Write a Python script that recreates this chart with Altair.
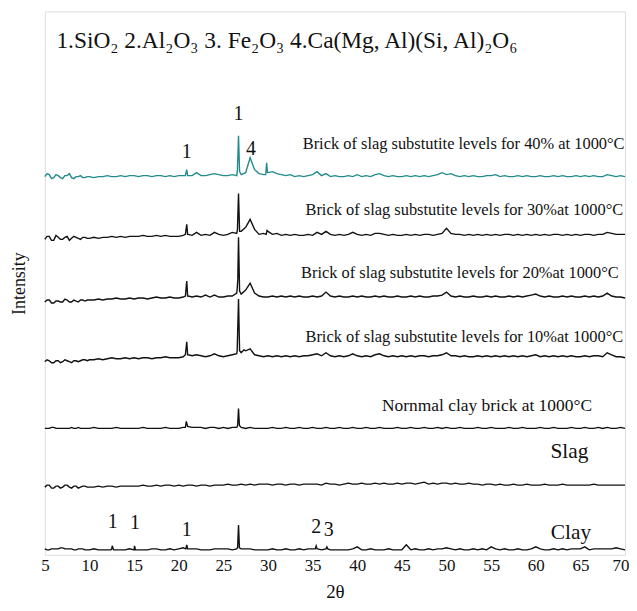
import altair as alt
import pandas as pd

# ---------------- data ----------------
X_TICKS = [5, 10, 15, 20, 25, 30, 35, 40, 45, 50, 55, 60, 65, 70]
GRID_X = [5 + 0.5 * i for i in range(131)]          # 5.0 ... 70.0
FUZZ_X = [5.25 + 0.5 * i for i in range(10)]         # 5.25 ... 9.75

SERIES = ["40%", "30%", "20%", "10%", "Normal", "Slag", "Clay"]
OFFSETS = [379, 319, 257, 197, 127, 68, 5]
COLORS = ["#238b8b", "#111111", "#111111", "#111111", "#111111", "#111111", "#111111"]

NOISE = {
    "40%": [1, 3, 0, 2, -1, 2, 0, 1, 2, 0,
            1, 0, 1, 1, 2, 1, 1, 2, 1, 2,
            2, 1, 2, 2, 1, 2, 2, 1, 2, 1,
            2, 2, 2, 2, 5, 2, 2, 3, 4, 3,
            2, 2, 3, 2, 3, 5, 20, 8, 4, 3,
            5, 6, 4, 3, 2, 3, 1, 2, 1, 2,
            3, 6, 2, 4, 1, 2, 1, 1, 2, 1,
            3, 1, 2, 1, 3, 4, 2, 1, 2, 1,
            1, 2, 1, 2, 1, 2, 1, 2, 3, 5,
            3, 4, 2, 1, 2, 1, 2, 1, 1, 2,
            2, 3, 1, 2, 1, 1, 2, 1, 2, 1,
            1, 2, 1, 1, 2, 1, 2, 1, 1, 2,
            1, 2, 1, 2, 1, 1, 3, 2, 1, 2,
            1],
    "30%": [-2, 1, -3, 0, -2, 1, -1, 0, -2, 0,
            -1, 0, -1, 0, 0, 1, 0, 1, 0, 1,
            1, 1, 2, 1, 1, 2, 1, 2, 1, 1,
            1, 2, 3, 2, 5, 2, 3, 2, 5, 3,
            2, 3, 5, 4, 6, 10, 18, 8, 3, 4,
            6, 3, 4, 2, 3, 2, 3, 2, 2, 3,
            2, 5, 3, 6, 3, 2, 3, 2, 3, 5,
            3, 2, 3, 2, 4, 4, 3, 2, 3, 2,
            2, 3, 2, 3, 2, 3, 3, 2, 3, 4,
            9, 4, 3, 3, 2, 3, 2, 3, 2, 3,
            2, 3, 2, 3, 3, 2, 3, 2, 3, 2,
            3, 2, 3, 2, 3, 3, 2, 3, 2, 3,
            2, 3, 3, 2, 3, 3, 5, 4, 3, 3,
            3],
    "20%": [-3, -1, -4, -2, -3, -1, -3, -2, -1, -2,
            -1, -1, 0, -1, 0, 0, 1, 0, 0, 1,
            0, 1, 1, 0, 1, 2, 1, 1, 2, 1,
            1, 2, 3, 2, 3, 2, 4, 2, 4, 2,
            2, 3, 3, 6, 5, 9, 16, 6, 3, 2,
            2, 3, 2, 3, 2, 3, 2, 3, 2, 2,
            3, 2, 3, 7, 3, 2, 3, 2, 2, 3,
            2, 3, 2, 2, 3, 2, 3, 2, 2, 3,
            2, 2, 3, 2, 3, 2, 2, 3, 3, 4,
            7, 3, 2, 3, 2, 2, 3, 2, 2, 3,
            2, 3, 2, 2, 3, 2, 3, 2, 3, 4,
            5, 3, 2, 3, 2, 2, 3, 2, 3, 2,
            2, 3, 2, 3, 2, 3, 6, 3, 2, 2,
            1],
    "10%": [-3, -2, -4, -2, -3, -2, -4, -2, -2, -1,
            -1, -1, 0, -1, 0, 1, 0, 0, 1, 0,
            1, 0, 1, 1, 0, 1, 1, 2, 1, 1,
            1, 2, 4, 3, 4, 3, 2, 3, 5, 3,
            2, 3, 4, 5, 6, 8, 10, 4, 3, 2,
            3, 2, 3, 2, 3, 2, 3, 2, 3, 3,
            4, 5, 3, 6, 3, 2, 3, 2, 3, 5,
            3, 2, 3, 2, 4, 5, 3, 2, 3, 2,
            3, 2, 3, 2, 3, 3, 2, 3, 3, 4,
            6, 3, 3, 2, 3, 2, 2, 3, 2, 3,
            2, 3, 2, 3, 2, 3, 2, 3, 2, 3,
            4, 2, 3, 2, 3, 2, 3, 2, 3, 2,
            2, 3, 2, 3, 3, 2, 6, 4, 2, 2,
            1],
    "Normal": [0, 0, 1, 0, 0, 0, 1, 0, 0, 0,
               0, 1, 0, 0, 0, 0, 1, 0, 0, 0,
               0, 0, 1, 0, 0, 0, 0, 1, 0, 0,
               0, 1, 2, 1, 1, 1, 0, 1, 1, 0,
               1, 0, 1, 1, 1, 0, 1, 0, 0, 0,
               0, 1, 0, 0, 1, 0, 0, 1, 0, 0,
               1, 0, 0, 1, 0, 0, 1, 0, 0, 1,
               0, 0, 1, 0, 0, 1, 0, 0, 0, 1,
               0, 0, 1, 0, 0, 1, 0, 0, 1, 0,
               1, 0, 0, 1, 0, 0, 0, 1, 0, 0,
               1, 0, 0, 0, 1, 0, 0, 1, 0, 0,
               0, 1, 0, 0, 1, 0, 0, 0, 1, 0,
               0, 1, 0, 0, 1, 0, 1, 0, 0, 1,
               0],
    "Slag": [0, 2, -1, 1, 0, 2, -1, 1, 0, 1,
             0, 0, 1, 0, 1, 1, 0, 1, 1, 1,
             1, 1, 2, 1, 1, 2, 1, 2, 2, 1,
             2, 1, 2, 2, 1, 2, 2, 1, 2, 2,
             2, 3, 2, 2, 3, 2, 3, 2, 3, 3,
             3, 2, 3, 3, 2, 3, 3, 2, 3, 3,
             3, 3, 2, 4, 3, 3, 2, 3, 4, 3,
             3, 4, 3, 3, 4, 3, 4, 3, 3, 4,
             3, 4, 4, 3, 4, 5, 3, 4, 3, 4,
             4, 3, 4, 3, 3, 4, 3, 3, 2, 3,
             3, 2, 3, 2, 2, 3, 2, 2, 3, 2,
             2, 2, 3, 2, 2, 2, 3, 2, 2, 2,
             2, 2, 2, 3, 2, 2, 2, 2, 2, 2,
             2],
    "Clay": [1, 0, 1, 1, 2, 1, 1, 0, 1, 0,
             0, 1, 0, 0, 0, 1, 0, 0, 0, 1,
             0, 0, 0, 0, 1, 1, 0, 0, 1, 0,
             1, 2, 1, 1, 1, 0, 0, 0, 1, 1,
             1, 1, 0, 1, 1, 1, 1, 0, 0, 0,
             0, 1, 0, 0, 1, 0, 0, 1, 0, 1,
             1, 1, 0, 1, 0, 0, 0, 0, 0, 1,
             3, 0, 0, 1, 0, 0, 0, 1, 0, 0,
             0, 5, 0, 1, 0, 0, 1, 0, 1, 1,
             2, 1, 0, 1, 0, 0, 1, 0, 1, 0,
             3, 1, 0, 1, 0, 0, 1, 0, 0, 1,
             3, 1, 0, 0, 1, 0, 1, 0, 1, 1,
             1, 3, 0, 1, 1, 1, 1, 1, 2, 1,
             0],
}

FUZZ = {
    "40%": [4, -1, 3, 0, 2, 4, -1, 1, 0, 1],
    "30%": [1, -3, 2, -2, 0, -3, 1, -1, 0, -1],
    "20%": [-1, -4, -2, -3, 0, -3, -1, -3, -1, -1],
    "10%": [-1, -4, -2, -4, -1, -3, -2, -3, -1, -2],
    "Normal": [0, 1, 0, 0, 0, 0, 0, 1, 0, 0],
    "Slag": [2, -1, 1, -1, 2, 0, 1, -1, 1, 0],
    "Clay": [0, 1, 1, 2, 1, 1, 0, 1, 1, 0],
}

PEAK_X = {
    "40%": [20.75, 20.9, 21.05, 26.58, 26.7, 26.82, 29.75, 29.85, 29.95],
    "30%": [20.75, 20.9, 21.05, 26.58, 26.7, 26.82, 29.8, 29.9],
    "20%": [20.75, 20.9, 21.05, 26.55, 26.62, 26.7, 26.82],
    "10%": [20.75, 20.9, 21.05, 26.55, 26.7, 26.82, 27.3],
    "Normal": [20.75, 20.85, 21.0, 26.6, 26.7, 26.8],
    "Slag": [],
    "Clay": [12.4, 12.55, 12.7, 14.95, 15.05, 15.15, 20.8, 20.9, 21.05,
             26.6, 26.7, 26.8, 35.3, 35.4, 35.55, 36.5, 36.6, 36.7],
}
PEAK_Y = {
    "40%": [2, 8, 2, 8, 42, 6, 3, 15, 5],
    "30%": [3, 13, 3, 8, 44, 6, 3, 7],
    "20%": [3, 18, 3, 10, 20, 62, 8],
    "10%": [4, 17, 4, 8, 60, 8, 9],
    "Normal": [1, 7, 2, 3, 20, 3],
    "Slag": [],
    "Clay": [0, 4, 0, 0, 4, 0, 1, 5, 1, 2, 25, 2, 1, 4, 1, 1, 3, 1],
}

SAMPLE_LABELS = [
    "Brick of slag substutite levels for 40% at 1000°C",
    "Brick of slag substutite levels for 30%at 1000°C",
    "Brick of slag substutite levels for 20%at 1000°C",
    "Brick of slag substutite levels for 10%at 1000°C",
]
SAMPLE_LABEL_X = [69.95, 69.8, 69.3, 69.8]
SAMPLE_LABEL_Y = [413, 346, 283, 219]

NORMAL_LABEL = ["Nornmal clay brick at 1000°C"]
NORMAL_LABEL_X = [66.3]
NORMAL_LABEL_Y = [149]

BIG_LABELS = ["Slag", "Clay"]
BIG_LABEL_X = [65.9, 66.2]
BIG_LABEL_Y = [103, 22]

PEAK_LABELS = ["1", "1", "4", "1", "1", "1", "2", "3"]
PEAK_LABEL_X = [20.9, 26.7, 28.1, 12.6, 15.1, 20.9, 35.4, 36.8]
PEAK_LABEL_Y = [405, 443, 408, 33, 32, 25, 28, 25]

HEADER = ["1.SiO₂  2.Al₂O₃  3. Fe₂O₃  4.Ca(Mg, Al)(Si, Al)₂O₆"]
HEADER_X = [6.3]
HEADER_Y = [516]

# ---------------- build table ----------------
rows = []
for s, off in zip(SERIES, OFFSETS):
    for x, v in zip(GRID_X, NOISE[s]):
        rows.append({"series": s, "x": x, "y": off + v})
    for x, v in zip(FUZZ_X, FUZZ[s]):
        rows.append({"series": s, "x": x, "y": off + v})
    for x, v in zip(PEAK_X[s], PEAK_Y[s]):
        rows.append({"series": s, "x": x, "y": off + v})
df = pd.DataFrame(rows).sort_values(["series", "x"])

FONT = "Liberation Serif"
xs = alt.Scale(domain=[5, 70], nice=False, zero=False)
ys = alt.Scale(domain=[0, 546], nice=False, zero=False)

lines = alt.Chart(df).mark_line(strokeWidth=1.4).encode(
    x=alt.X("x:Q", scale=xs, title="2θ",
            axis=alt.Axis(values=X_TICKS, format="d", grid=False, domain=False,
                          ticks=False, labelFont=FONT, labelFontSize=17,
                          labelColor="#111", labelPadding=3, labelFlush=True,
                          labelFlushOffset=4, labelOverlap=False,
                          titleFont=FONT, titleFontSize=19,
                          titleFontWeight="normal", titleColor="#111",
                          titlePadding=9)),
    y=alt.Y("y:Q", scale=ys, title="Intensity",
            axis=alt.Axis(labels=False, ticks=False, grid=False, domain=False,
                          titleFont=FONT, titleFontSize=18,
                          titleFontWeight="normal", titleColor="#111",
                          titlePadding=16)),
    color=alt.Color("series:N", scale=alt.Scale(domain=SERIES, range=COLORS),
                    legend=None),
    detail="series:N",
)


def text_layer(labels, xv, yv, size, align):
    d = pd.DataFrame({"t": labels, "x": xv, "y": yv})
    return alt.Chart(d).mark_text(
        align=align, baseline="middle", font=FONT, fontSize=size, color="#111"
    ).encode(x=alt.X("x:Q", scale=xs), y=alt.Y("y:Q", scale=ys), text="t:N")


samples = text_layer(SAMPLE_LABELS, SAMPLE_LABEL_X, SAMPLE_LABEL_Y, 16.5, "right")
normal = text_layer(NORMAL_LABEL, NORMAL_LABEL_X, NORMAL_LABEL_Y, 17.5, "right")
bigs = text_layer(BIG_LABELS, BIG_LABEL_X, BIG_LABEL_Y, 21.5, "right")
pks = text_layer(PEAK_LABELS, PEAK_LABEL_X, PEAK_LABEL_Y, 20, "center")
hdr = text_layer(HEADER, HEADER_X, HEADER_Y, 23.5, "left")

chart = alt.layer(lines, samples, normal, bigs, pks, hdr).properties(
    width=583, height=546,
    autosize=alt.AutoSizeParams(type="none"),
    padding={"left": 37, "top": 2, "right": 4, "bottom": 50},
).configure_view(stroke="#111", strokeWidth=1.4).configure_axis(
    labelFont=FONT, titleFont=FONT
).configure(background="white")

chart.save("out.html", embed_options={"renderer": "svg", "actions": False})
